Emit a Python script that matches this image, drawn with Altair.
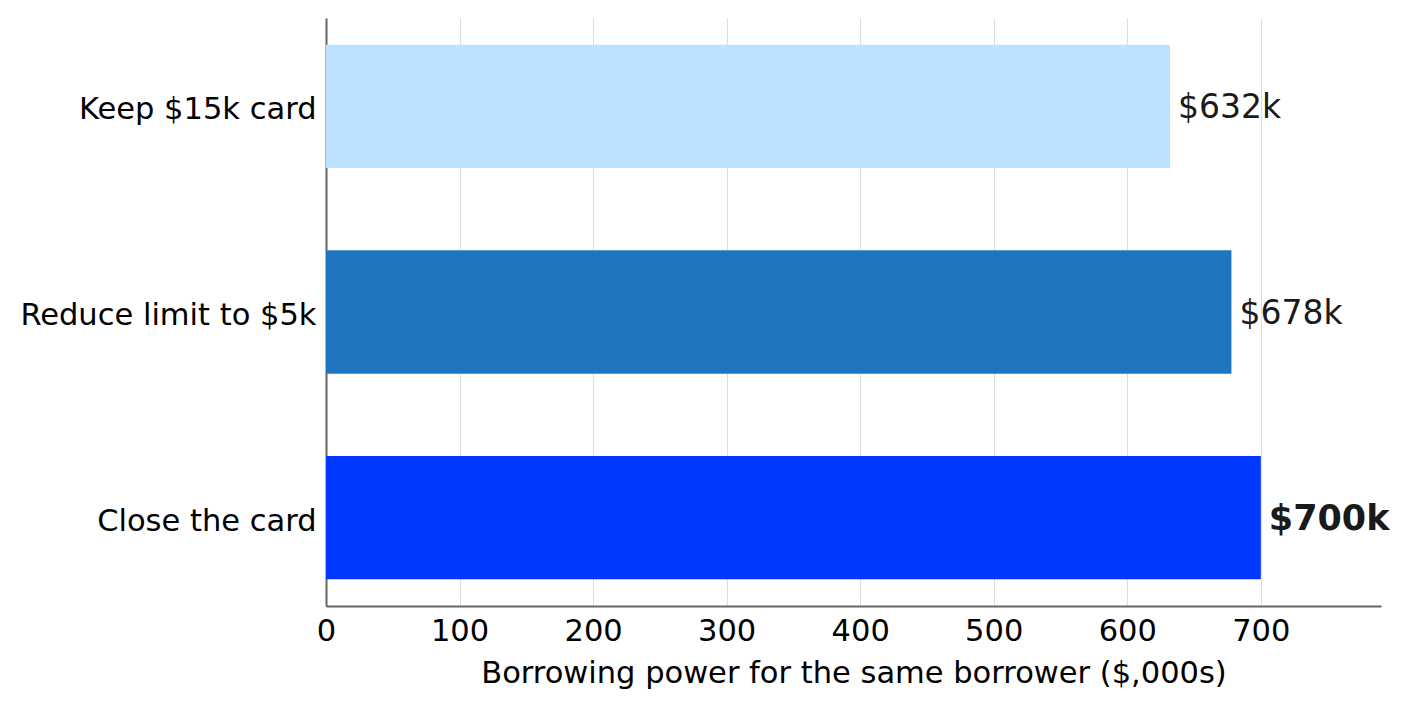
import altair as alt
import pandas as pd

categories = ["Keep $15k card", "Reduce limit to $5k", "Close the card"]
values = [632, 678, 700]
labels = ["$632k", "$678k", "$700k"]
colors = ["#bde2ff", "#1f75be", "#0038ff"]
bold = [False, False, True]
ticks = [0, 100, 200, 300, 400, 500, 600, 700]

df = pd.DataFrame({"cat": categories, "val": values, "lab": labels, "col": colors, "bold": bold})

FONT = "DejaVu Sans"

x = alt.X("val:Q", scale=alt.Scale(domain=[0, 790], nice=False, zero=True),
          axis=alt.Axis(values=ticks, title="Borrowing power for the same borrower ($,000s)",
                        titleFontSize=30.5, titleFontWeight="normal", titleFont=FONT, titleColor="#000",
                        labelFontSize=30.5, labelFont=FONT, labelColor="#000", labelPadding=10,
                        labelFlush=False,
                        tickSize=0, domainColor="#666", domainWidth=2,
                        grid=True, gridColor="#dddddd", gridWidth=1, titlePadding=12))
y = alt.Y("cat:N", sort=categories,
          scale=alt.Scale(paddingInner=0.4, paddingOuter=0.13),
          axis=alt.Axis(title=None, labelFontSize=30.5, labelFont=FONT, labelColor="#000",
                        labelPadding=10, labelOffset=4, tickSize=0, domainColor="#666",
                        domainWidth=2, grid=False, labelLimit=500))

bars = alt.Chart(df).mark_bar().encode(
    x=x, y=y, color=alt.Color("col:N", scale=None, legend=None)
)

txt_norm = alt.Chart(df).transform_filter("!datum.bold").mark_text(
    align="left", baseline="middle", dx=8, dy=2, fontSize=33, font=FONT, color="#1a1a1a"
).encode(x="val:Q", y=alt.Y("cat:N", sort=categories), text="lab:N")

txt_bold = alt.Chart(df).transform_filter("datum.bold").mark_text(
    align="left", baseline="middle", dx=8, dy=1, fontSize=35, font=FONT, color="#1a1a1a", fontWeight="bold"
).encode(x="val:Q", y=alt.Y("cat:N", sort=categories), text="lab:N")

chart = alt.layer(bars, txt_norm, txt_bold).properties(
    width=1055, height=588,
    autosize=alt.AutoSizeParams(type="none"),
    padding={"left": 326, "top": 18, "right": 32, "bottom": 100},
    background="white"
).configure_view(stroke=None)

chart.save("out.html", embed_options={"renderer": "svg", "actions": False})
